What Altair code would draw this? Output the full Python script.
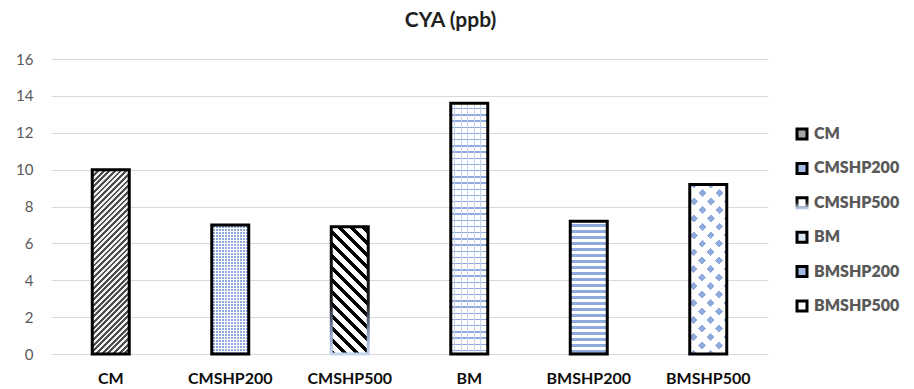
import math
import altair as alt
import pandas as pd

# ---------------- data ----------------
categories = ["CM", "CMSHP200", "CMSHP500", "BM", "BMSHP200", "BMSHP500"]
values = [10.0, 7.0, 6.9, 13.6, 7.2, 9.2]
legend_colors = ["#a6a6a6", "#a9bce6", "#ffffff", "#dde6f5", "#a3b8e3", "#ffffff"]
y_ticks = [0, 2, 4, 6, 8, 10, 12, 14, 16]
title_text = "CYA (ppb)"

# ---------------- layout / style ----------------
PLOT_W, PLOT_H = 717, 295
Y_MAX = 16
BAR_W = 37
FONT = "Lato"
BLUE = "#8faadc"
CLEAR = "rgba(255,255,255,0)"

df = pd.DataFrame({"cat": categories, "val": values})


def stripes(w, h, d, period, c1, frac, c2, phase=0.0):
    """Linear gradient (objectBoundingBox units) that draws stripes of the
    given pixel period perpendicular to direction d on a w x h box."""
    n = math.hypot(*d)
    dx, dy = d[0] / n, d[1] / n
    corners = [(0, 0), (w, 0), (0, h), (w, h)]
    proj = [x * dx + y * dy for x, y in corners]
    m, M = min(proj), max(proj)
    L = M - m
    S = corners[proj.index(m)]
    g0, g1 = w * dx / L, h * dy / L
    gg = g0 * g0 + g1 * g1
    u1, v1 = S[0] / w, S[1] / h
    segs = []
    pos = -phase * period
    while pos < L:
        segs.append((pos, pos + frac * period, c1))
        segs.append((pos + frac * period, pos + period, c2))
        pos += period
    stops = []
    for a, b, col in segs:
        a2, b2 = max(a, 0.0), min(b, L)
        if b2 <= a2:
            continue
        stops.append({"offset": round(a2 / L, 5), "color": col})
        stops.append({"offset": round(b2 / L, 5), "color": col})
    return {
        "gradient": "linear",
        "x1": round(u1, 5), "y1": round(v1, 5),
        "x2": round(u1 + g0 / gg, 5), "y2": round(v1 + g1 / gg, 5),
        "stops": stops,
    }


def bar_h(cat):
    return values[categories.index(cat)] / Y_MAX * PLOT_H


UP = (1, 1)      # "/" stripes
DOWN = (1, -1)   # "\" stripes
HORIZ = (0, 1)
VERT = (1, 0)

fills = {}
w = BAR_W
h = bar_h("CM")
fills["CM"] = [stripes(w, h, UP, 4.0, "#4d4d4d", 0.5, "#f2f2f2")]
h = bar_h("CMSHP200")
fills["CMSHP200"] = [
    {"gradient": "linear", "x1": 0, "y1": 0, "x2": 1, "y2": 0,
     "stops": [{"offset": 0, "color": BLUE}, {"offset": 1, "color": BLUE}]},
    stripes(w, h, HORIZ, 3.0, "#ffffff", 0.33, CLEAR),
    stripes(w, h, VERT, 3.0, "#ffffff", 0.33, CLEAR),
]
h = bar_h("CMSHP500")
fills["CMSHP500"] = [stripes(w, h, DOWN, 8.5, "#000000", 0.45, "#ffffff")]
h = bar_h("BM")
fills["BM"] = [
    stripes(w, h, HORIZ, 6.2, "#ffffff", 0.78, BLUE),
    stripes(w, h, VERT, 6.5, CLEAR, 0.84, "#c2d1ee", phase=0.3),
]
h = bar_h("BMSHP200")
fills["BMSHP200"] = [stripes(w, h, HORIZ, 6.0, "#ffffff", 0.5, BLUE)]
h = bar_h("BMSHP500")
fills["BMSHP500"] = [
    stripes(w, h, UP, 12.0, BLUE, 0.47, "#ffffff"),
    stripes(w, h, DOWN, 12.0, CLEAR, 0.47, "#ffffff"),
]

grad_stroke = {
    "gradient": "linear", "x1": 0, "y1": 0, "x2": 0, "y2": 1,
    "stops": [
        {"offset": 0, "color": "#000000"},
        {"offset": 0.6, "color": "#1a1a1a"},
        {"offset": 0.85, "color": "#8fa3c8"},
        {"offset": 1, "color": "#c5d5ee"},
    ],
}

base = alt.Chart(df).encode(
    x=alt.X(
        "cat:N",
        sort=categories,
        scale=alt.Scale(domain=categories, paddingInner=0, paddingOuter=0),
        axis=alt.Axis(
            title=None, labelAngle=0, labelFont=FONT, labelFontWeight="bold",
            labelFontSize=16, labelColor="#0d0d0d", ticks=False, tickSize=0,
            domain=False, domainOpacity=0, labelPadding=16, grid=False,
            gridOpacity=0, tickOpacity=0,
        ),
    ),
    y=alt.Y(
        "val:Q",
        scale=alt.Scale(domain=[0, Y_MAX], nice=False),
        axis=alt.Axis(
            values=y_ticks, title=None, labelFont=FONT, labelFontSize=15,
            labelColor="#595959", ticks=False, tickSize=0, tickOpacity=0,
            domain=False, domainOpacity=0,
            gridColor="#d9d9d9", gridWidth=1, labelPadding=18,
        ),
    ),
)

legend_stroke_expr = (
    "datum.value === 'CMSHP500' ? {gradient: 'linear', x1: 0, y1: 0, x2: 0, y2: 1, "
    "stops: [{offset: 0, color: '#000000'}, {offset: 0.5, color: '#1a1a1a'}, "
    "{offset: 1, color: '#b4c7e7'}]} : '#000000'"
)

legend_layer = base.mark_bar(size=BAR_W).encode(
    color=alt.Color(
        "cat:N",
        sort=categories,
        scale=alt.Scale(domain=categories, range=legend_colors),
        legend=alt.Legend(
            title=None, orient="none", legendX=743, legendY=67, padding=0,
            symbolType="square", symbolSize=100, symbolStrokeWidth=3,
            symbolStrokeColor={"expr": legend_stroke_expr},
            labelFont=FONT, labelFontSize=16, labelFontWeight=800,
            labelColor="#595959", labelOffset=4, rowPadding=12.4,
        ),
    )
)

layers = [legend_layer]
for c in categories:
    for f in fills[c]:
        layers.append(
            base.transform_filter(alt.datum.cat == c).mark_bar(
                size=BAR_W, fill=f, strokeWidth=0
            )
        )

layers.append(
    base.transform_filter(alt.datum.cat != "CMSHP500").mark_bar(
        size=BAR_W, fillOpacity=0, stroke="#000000", strokeWidth=3
    )
)
layers.append(
    base.transform_filter(alt.datum.cat == "CMSHP500").mark_bar(
        size=BAR_W, fillOpacity=0, stroke=grad_stroke, strokeWidth=3
    )
)

chart = (
    alt.layer(*layers)
    .properties(
        width=PLOT_W,
        height=PLOT_H,
        view=alt.ViewBackground(stroke="transparent", strokeWidth=0, strokeOpacity=0),
        title=alt.TitleParams(
            title_text, font=FONT, fontSize=21, fontWeight="bold",
            color="#1f1f1f", anchor="middle", offset=21, dx=41,
        ),
        autosize=alt.AutoSizeParams(type="none"),
        padding={"left": 51, "top": 59, "right": 146, "bottom": 35},
    )
    .configure_view(stroke="transparent", strokeWidth=0, strokeOpacity=0)
    .configure_axis(domain=False, domainOpacity=0, tickOpacity=0)
    .configure_axisX(grid=False, gridOpacity=0)
    .configure_legend(labelFontWeight="bold")
    .configure(background="#ffffff")
)

chart.save("out.html", embed_options={"renderer": "svg", "actions": False})
